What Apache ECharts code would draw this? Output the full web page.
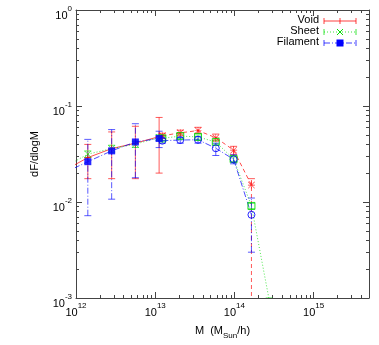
<!DOCTYPE html>
<html lang="en">
<head>
<meta charset="UTF-8">
<title>dF/dlogM</title>
<script src="https://cdn.jsdelivr.net/npm/echarts@6/dist/echarts.min.js"></script>
<style>
  html, body { margin: 0; padding: 0; background: #fff; }
  #main { width: 379px; height: 345px; }
</style>
</head>
<body>
<div id="main"></div>
<script>
// mass bins (M_sun/h) - low mass sample and high mass sample
var massLow = [7.08e11, 1.41e12, 2.82e12, 5.62e12, 1.12e13];
var massHigh = [1.23e13, 2.07e13, 3.47e13, 5.82e13, 9.77e13, 1.64e14, 2.75e14];

// low mass sample (in legend)
var voidLow = [0.0212, 0.029, 0.036, 0.041, 0.048];
var voidLowLo = [0.013, 0.0175, 0.0175, 0.0175, 0.020];
var voidLowHi = [0.030, 0.0398, 0.0537, 0.0615, 0.076];

var sheetLow = [0.023, 0.0315, 0.036, 0.040, 0.047];
var sheetLowLo = [0.021, 0.029, 0.033, 0.037, 0.044];
var sheetLowHi = [0.025, 0.034, 0.039, 0.043, 0.050];

var filLow = [0.0201, 0.0263, 0.0341, 0.0422, 0.0459];
var filLowLo = [0.005, 0.0072, 0.0107, 0.0179, 0.0369];
var filLowHi = [0.035, 0.0449, 0.0568, 0.0654, 0.0546];

// high mass sample (no legend entry)
var voidHigh = [0.049, 0.0525, 0.0555, 0.0467, 0.0347, 0.0150];
var voidHighLo = [0.046, 0.049, 0.052, 0.043, 0.031, 0.0001];
var voidHighHi = [0.052, 0.056, 0.060, 0.051, 0.038, 0.0175];

var sheetHigh = [0.046, 0.0486, 0.0476, 0.0422, 0.0280, 0.0091, 0.00095];
var sheetHighLo = [0.044, 0.046, 0.045, 0.040, 0.0265, 0.0085, 0.0009];
var sheetHighHi = [0.048, 0.051, 0.050, 0.044, 0.0295, 0.0097, 0.0010];

var filHigh = [0.0435, 0.0442, 0.0445, 0.0363, 0.0278, 0.00736];
var filHighLo = [0.041, 0.041, 0.041, 0.0305, 0.025, 0.003];
var filHighHi = [0.046, 0.047, 0.048, 0.041, 0.031, 0.011];

var legendNames = ['Void', 'Sheet', 'Filament'];

var RED = '#ff0000', GREEN = '#00dd00', BLUE = '#0000ff';
var DASHED = [4, 3], DOTTED = [1, 2], DASHDOT = [6, 2, 1, 2];

// gnuplot-like point types (thin strokes)
var PLUS = 'path://M0,4.6H10V5.4H0Z M4.6,0H5.4V10H4.6Z';
var CROSS = 'path://M0,0.6L0.6,0L10,9.4L9.4,10Z M9.4,0L10,0.6L0.6,10L0,9.4Z';
var STAR = 'path://M0,4.6H10V5.4H0Z M4.6,0H5.4V10H4.6Z M0,0.6L0.6,0L10,9.4L9.4,10Z M9.4,0L10,0.6L0.6,10L0,9.4Z';

function pairs(xs, ys) {
    var out = [];
    for (var i = 0; i < ys.length; i++) out.push([xs[i], ys[i]]);
    return out;
}

function lineSeries(name, xs, ys, color, dash, symbol, size, fill, bw) {
    return {
        type: 'line',
        name: name,
        data: pairs(xs, ys),
        clip: true,
        symbol: symbol,
        symbolSize: size,
        showAllSymbol: true,
        z: 3,
        lineStyle: { color: color, width: 1, type: dash, opacity: 0.7 },
        itemStyle: { color: fill, borderColor: color, borderWidth: bw, opacity: 0.85 },
        emphasis: { disabled: true },
        animation: false
    };
}

function errSeries(xs, lo, hi, color, dash) {
    var data = [];
    for (var i = 0; i < lo.length; i++) data.push([xs[i], lo[i], hi[i]]);
    return {
        type: 'custom',
        clip: true,
        silent: true,
        z: 2,
        encode: { x: 0, y: [1, 2] },
        renderItem: function (params, api) {
            var x = api.value(0);
            var a = api.coord([x, api.value(1)]);
            var b = api.coord([x, api.value(2)]);
            var w = 3.5;
            return {
                type: 'group',
                children: [
                    { type: 'line', shape: { x1: a[0], y1: a[1], x2: b[0], y2: b[1] },
                      style: { stroke: color, lineWidth: 1, lineDash: dash, opacity: 0.65 } },
                    { type: 'line', shape: { x1: a[0] - w, y1: a[1], x2: a[0] + w, y2: a[1] },
                      style: { stroke: color, lineWidth: 1, opacity: 0.65 } },
                    { type: 'line', shape: { x1: b[0] - w, y1: b[1], x2: b[0] + w, y2: b[1] },
                      style: { stroke: color, lineWidth: 1, opacity: 0.65 } }
                ]
            };
        },
        data: data,
        animation: false
    };
}

function powLabel(v) {
    var l = Math.log10(v);
    var e = Math.round(l);
    if (Math.abs(l - e) > 1e-6) return '';
    return '{b|10}{s|' + e + '}';
}

var labelRich = {
    b: { fontSize: 11, fontFamily: 'Liberation Sans', color: '#000', lineHeight: 16, verticalAlign: 'bottom' },
    s: { fontSize: 8, fontFamily: 'Liberation Sans', color: '#000', lineHeight: 14, verticalAlign: 'top' }
};

function makeAxis(pos, min, max, showLabel) {
    var isX = pos === 'bottom' || pos === 'top';
    return {
        type: 'log',
        logBase: 10,
        position: pos,
        min: min,
        max: max,
        axisLine: { show: true, onZero: false, lineStyle: { color: '#444', width: 1 } },
        axisTick: { show: true, inside: true, length: 6, lineStyle: { color: '#444' } },
        minorTick: { show: true, splitNumber: 9, length: 3, lineStyle: { color: '#444' } },
        splitLine: { show: false },
        minorSplitLine: { show: false },
        axisLabel: {
            show: showLabel,
            margin: 4,
            showMaxLabel: isX ? false : true,
            formatter: powLabel,
            rich: labelRich,
            padding: isX ? 0 : [6, 0, 0, 0]
        }
    };
}

var xBottom = makeAxis('bottom', 1e12, 5e15, true);
xBottom.name = 'M  (M{sub|Sun}/h)';
xBottom.nameLocation = 'middle';
xBottom.nameGap = 24;
xBottom.nameTextStyle = {
    fontSize: 11, fontFamily: 'Liberation Sans', color: '#000',
    rich: { sub: { fontSize: 8, fontFamily: 'Liberation Sans', color: '#000', lineHeight: 18, verticalAlign: 'bottom' } }
};

var yLeft = makeAxis('left', 1e-3, 1, true);
yLeft.name = 'dF/dlogM';
yLeft.nameLocation = 'middle';
yLeft.nameGap = 36;
yLeft.nameTextStyle = { fontSize: 11, fontFamily: 'Liberation Sans', color: '#000' };

// legend drawn like gnuplot's key: text right aligned, sample line with caps and point
var legendColors = [RED, GREEN, BLUE];
var legendDash = [null, DOTTED, DASHDOT];
var legendSym = ['plus', 'cross', 'square'];
var graphics = [];
for (var i = 0; i < legendNames.length; i++) {
    var y = 21 + i * 11;
    var c = legendColors[i];
    graphics.push({ type: 'text', right: 379 - 319, top: y - 7,
        style: { text: legendNames[i], fontSize: 11, fontFamily: 'Liberation Sans', fill: '#000', textAlign: 'right' } });
    graphics.push({ type: 'line', shape: { x1: 324, y1: y, x2: 356, y2: y },
        style: { stroke: c, lineWidth: 1, lineDash: legendDash[i], opacity: 0.75 } });
    graphics.push({ type: 'line', shape: { x1: 324, y1: y - 3, x2: 324, y2: y + 3 }, style: { stroke: c, lineWidth: 1, opacity: 0.75 } });
    graphics.push({ type: 'line', shape: { x1: 356, y1: y - 3, x2: 356, y2: y + 3 }, style: { stroke: c, lineWidth: 1, opacity: 0.75 } });
    if (legendSym[i] === 'plus') {
        graphics.push({ type: 'line', shape: { x1: 340, y1: y - 3, x2: 340, y2: y + 3 }, style: { stroke: c, lineWidth: 1, opacity: 0.75 } });
    } else if (legendSym[i] === 'cross') {
        graphics.push({ type: 'line', shape: { x1: 337, y1: y - 3, x2: 343, y2: y + 3 }, style: { stroke: c, lineWidth: 1 } });
        graphics.push({ type: 'line', shape: { x1: 337, y1: y + 3, x2: 343, y2: y - 3 }, style: { stroke: c, lineWidth: 1 } });
    } else {
        graphics.push({ type: 'rect', shape: { x: 336.5, y: y - 3.5, width: 7, height: 7 }, style: { fill: c } });
    }
}

var chart = echarts.init(document.getElementById('main'), null, { renderer: 'canvas' });
chart.setOption({
    backgroundColor: '#fff',
    animation: false,
    textStyle: { fontFamily: 'Liberation Sans' },
    grid: { left: 76, right: 10, top: 10, bottom: 42 },
    xAxis: [xBottom, makeAxis('top', 1e12, 5e15, false)],
    yAxis: [yLeft, makeAxis('right', 1e-3, 1, false)],
    graphic: graphics,
    series: [
        errSeries(massLow, voidLowLo, voidLowHi, RED, null),
        errSeries(massLow, sheetLowLo, sheetLowHi, GREEN, DOTTED),
        errSeries(massLow, filLowLo, filLowHi, BLUE, DASHDOT),
        errSeries(massHigh, voidHighLo, voidHighHi, RED, DASHED),
        errSeries(massHigh, sheetHighLo, sheetHighHi, GREEN, DOTTED),
        errSeries(massHigh, filHighLo, filHighHi, BLUE, DASHDOT),
        lineSeries('Void', massLow, voidLow, RED, 'solid', PLUS, 7, RED, 0),
        lineSeries('Sheet', massLow, sheetLow, GREEN, DOTTED, CROSS, 7, GREEN, 0),
        lineSeries('Void hi', massHigh, voidHigh, RED, DASHED, STAR, 7, RED, 0),
        lineSeries('Sheet hi', massHigh, sheetHigh, GREEN, DOTTED, 'rect', 7, 'rgba(0,0,0,0)', 1),
        lineSeries('Filament hi', massHigh, filHigh, BLUE, DASHDOT, 'circle', 7, 'rgba(0,0,0,0)', 1),
        lineSeries('Filament', massLow, filLow, BLUE, DASHDOT, 'rect', 7, BLUE, 0)
    ]
});
</script>
</body>
</html>
